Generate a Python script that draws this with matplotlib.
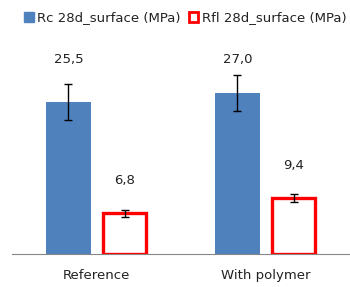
import numpy as np
import matplotlib.pyplot as plt
from matplotlib.patches import Patch

# Veriler
categories = ['Reference', 'With polymer']
rc_values = [25.5, 27.0]
rc_errors = [3.0, 3.0]
rfl_values = [6.8, 9.4]
rfl_errors = [0.65, 0.65]
rc_labels = ['25,5', '27,0']
rfl_labels = ['6,8', '9,4']
# etiketlerin yüksekliği (veri birimi)
rc_label_y = [32.5, 32.5]
rfl_label_y = [12.3, 14.8]

blue = '#4F81BD'
red = '#FF0000'

fig = plt.figure(figsize=(3.5, 2.87), dpi=100)
ax = fig.add_axes([12 / 350, 33 / 287, 338 / 350, 215 / 287])

x = np.arange(len(categories))
w = 0.265
off = 0.166

ax.bar(x - off, rc_values, w, color=blue, yerr=rc_errors,
       error_kw=dict(ecolor='black', elinewidth=1, capsize=3, capthick=1))
ax.bar(x + off, rfl_values, w - 0.012, color='white', edgecolor=red, linewidth=2.4,
       yerr=rfl_errors,
       error_kw=dict(ecolor='black', elinewidth=1, capsize=3, capthick=1))

for i in range(len(categories)):
    ax.text(x[i] - off, rc_label_y[i], rc_labels[i], ha='center', va='center',
            fontsize=9.5, color='#222222')
    ax.text(x[i] + off, rfl_label_y[i], rfl_labels[i], ha='center', va='center',
            fontsize=9.5, color='#222222')

ax.set_xlim(-0.5, 1.5)
ax.set_ylim(0, 36)
ax.set_xticks(x)
ax.set_xticklabels(categories, fontsize=9.5, color='#222222')
ax.tick_params(axis='x', length=0, pad=11)
ax.set_yticks([])
for s in ['top', 'right', 'left']:
    ax.spines[s].set_visible(False)
ax.spines['bottom'].set_color('#868686')
ax.spines['bottom'].set_zorder(0)

handles = [Patch(facecolor=blue, edgecolor=blue),
           Patch(facecolor='white', edgecolor=red, linewidth=2)]
fig.legend(handles, ['Rc 28d_surface (MPa)', 'Rfl 28d_surface (MPa)'],
           loc='center', bbox_to_anchor=(0.53, 1 - 18 / 287), ncol=2, frameon=False,
           fontsize=9.5, handlelength=0.7, handleheight=0.7, handletextpad=0.3,
           columnspacing=0.6, labelcolor='#222222')

plt.savefig('out.png', dpi=100)
